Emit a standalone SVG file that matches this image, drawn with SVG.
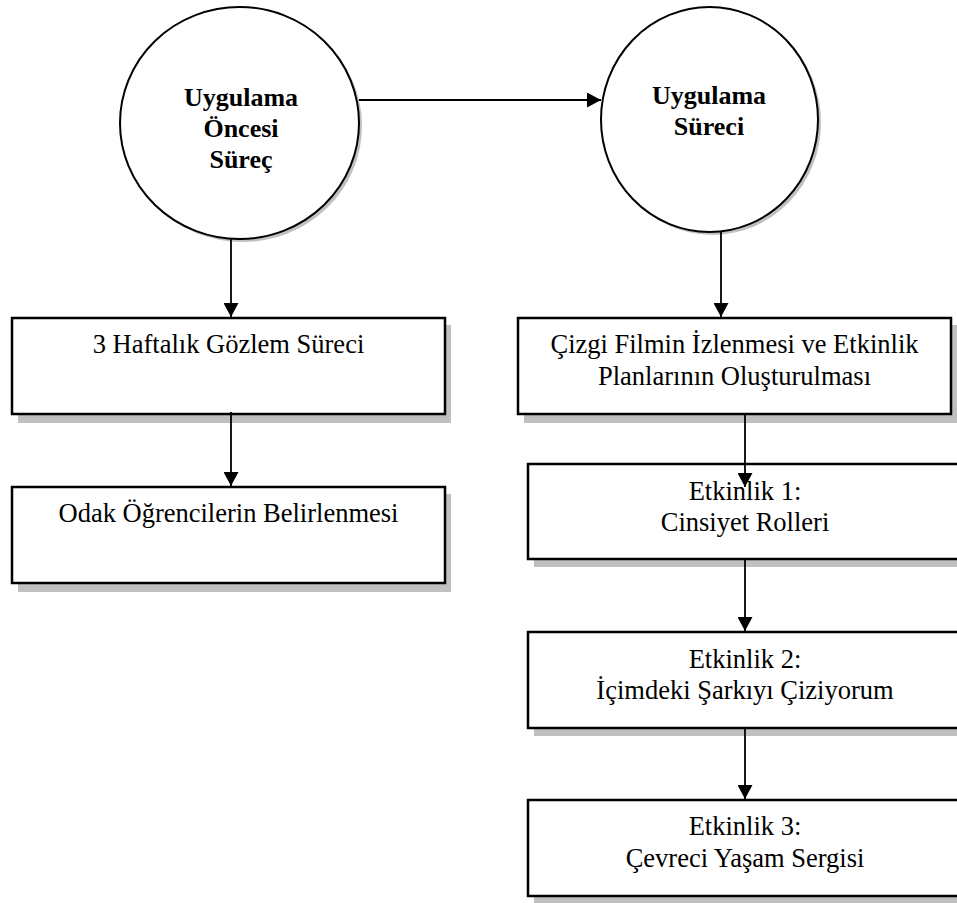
<svg xmlns="http://www.w3.org/2000/svg" width="957" height="903" viewBox="0 0 957 903">
<style>
.bg{fill:#ffffff}
.shadow{fill:#c0c0c0;stroke:none}
.box{fill:#ffffff;stroke:#000000;stroke-width:2.5}
.circ{fill:#ffffff;stroke:#000000;stroke-width:2}
.edge{stroke:#000000;stroke-width:1.8;fill:none;marker-end:url(#arr)}
text{font-family:'Liberation Serif','DejaVu Serif',serif;fill:#000000;text-anchor:middle}
.t{font-size:26.5px}
.tb{font-size:26px;font-weight:bold}
</style>
<defs>
<marker id="arr" markerUnits="userSpaceOnUse" markerWidth="15" markerHeight="15" refX="14" refY="7.5" orient="auto" viewBox="0 0 15 15">
<path d="M0,0 L14,7.5 L0,15 z" fill="#000000"/>
</marker>
</defs>
<rect class="bg" x="0" y="0" width="957" height="903"/>

<g id="node-uygulama-oncesi">
<ellipse class="shadow" cx="242.5" cy="126" rx="119.5" ry="116"/>
<ellipse class="circ" cx="239.5" cy="123" rx="119.5" ry="116"/>
<text class="tb" x="241" y="106">Uygulama</text>
<text class="tb" x="241" y="137">Öncesi</text>
<text class="tb" x="241" y="168">Süreç</text>
</g>

<g id="node-uygulama-sureci">
<ellipse class="shadow" cx="712.5" cy="122.5" rx="108.5" ry="112.5"/>
<ellipse class="circ" cx="709.5" cy="119.5" rx="108.5" ry="112.5"/>
<text class="tb" x="709" y="104">Uygulama</text>
<text class="tb" x="709" y="135">Süreci</text>
</g>

<g id="node-gozlem">
<rect class="shadow" x="18" y="325" width="433" height="98"/>
<rect class="box" x="12" y="318" width="433" height="96"/>
<text class="t" x="228.5" y="353">3 Haftalık Gözlem Süreci</text>
</g>

<g id="node-odak">
<rect class="shadow" x="18" y="494" width="433" height="98"/>
<rect class="box" x="12" y="487" width="433" height="96"/>
<text class="t" x="228.5" y="522">Odak Öğrencilerin Belirlenmesi</text>
</g>

<g id="node-cizgi-film">
<rect class="shadow" x="524" y="325" width="433" height="98"/>
<rect class="box" x="518" y="318" width="433" height="96"/>
<text class="t" x="734.5" y="353">Çizgi Filmin İzlenmesi ve Etkinlik</text>
<text class="t" x="734.5" y="385">Planlarının Oluşturulması</text>
</g>

<g id="node-etkinlik1">
<rect class="shadow" x="534" y="471" width="434" height="96"/>
<rect class="box" x="528" y="464" width="434" height="95"/>
<text class="t" x="745" y="500">Etkinlik 1:</text>
<text class="t" x="745" y="531">Cinsiyet Rolleri</text>
</g>

<g id="node-etkinlik2">
<rect class="shadow" x="534" y="639" width="434" height="97"/>
<rect class="box" x="528" y="632" width="434" height="96"/>
<text class="t" x="745" y="668">Etkinlik 2:</text>
<text class="t" x="745" y="699">İçimdeki Şarkıyı Çiziyorum</text>
</g>

<g id="node-etkinlik3">
<rect class="shadow" x="534" y="807" width="434" height="96"/>
<rect class="box" x="528" y="800" width="434" height="96"/>
<text class="t" x="745" y="835">Etkinlik 3:</text>
<text class="t" x="745" y="867">Çevreci Yaşam Sergisi</text>
</g>

<g id="connectors">
<line class="edge" x1="359" y1="100" x2="601" y2="100"/>
<line class="edge" x1="231" y1="239" x2="231" y2="317"/>
<line class="edge" x1="231" y1="412" x2="231" y2="486"/>
<line class="edge" x1="721" y1="232" x2="721" y2="317"/>
<line class="edge" x1="745" y1="414" x2="745" y2="487"/>
<line class="edge" x1="745" y1="559" x2="745" y2="631"/>
<line class="edge" x1="745" y1="728" x2="745" y2="799"/>
</g>
</svg>
